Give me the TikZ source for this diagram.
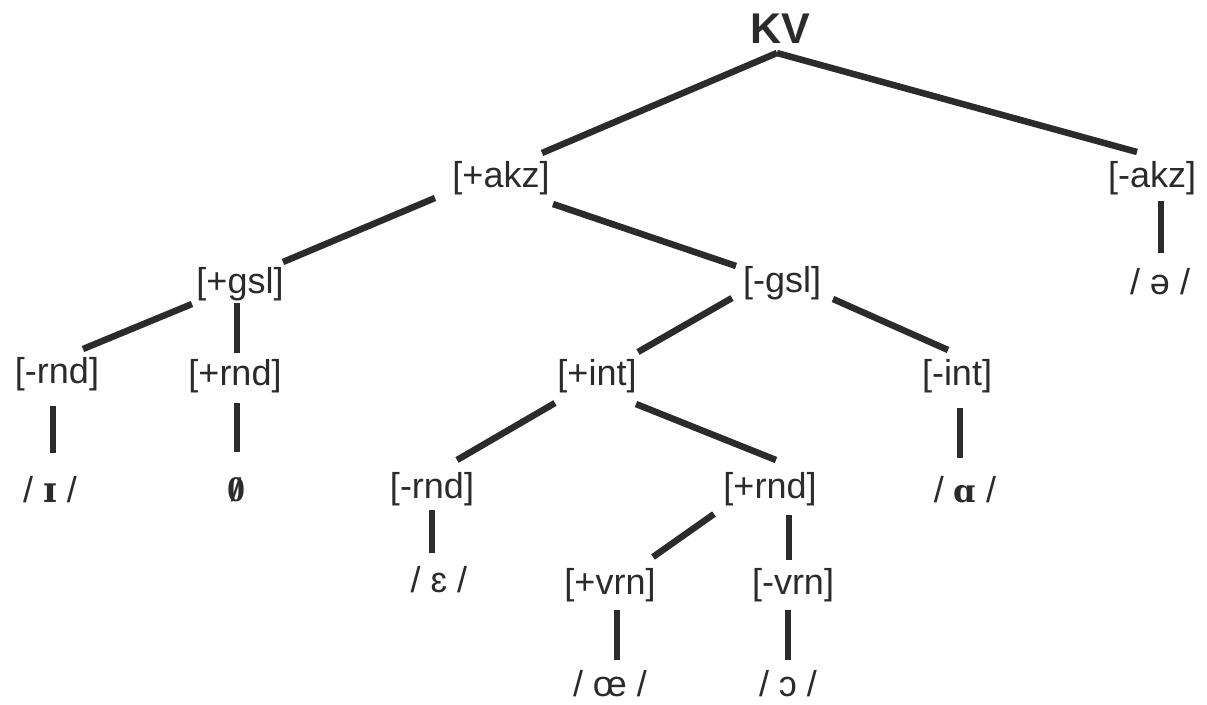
\documentclass[tikz,border=0pt]{standalone}
\usepackage{fontspec}
\setmainfont{Liberation Sans}
\newfontfamily\ipab{DejaVu Serif}
\newfontfamily\ipaser{Liberation Serif}
\definecolor{ink}{HTML}{2B2B2B}
\newcommand\slashzero{{\ipaser\bfseries\ooalign{0\cr\hidewidth/\hidewidth}}}
\begin{document}
\begin{tikzpicture}[x=1pt,y=-1pt,
  lbl/.style={text=ink, font=\fontsize{36}{40}\selectfont, inner sep=0pt, anchor=center},
  root/.style={text=ink, font=\fontsize{43}{48}\selectfont\bfseries, inner sep=0pt, anchor=center},
  edge/.style={draw=ink, line width=6.5pt, line cap=butt}]
\useasboundingbox (0,0) rectangle (1207,704);
% nodes
\node[root] (kv) at (780,29) {KV};
\node[lbl] (akzp) at (501,178) {[+akz]};
\node[lbl] (akzm) at (1152,178) {[-akz]};
\node[lbl] (gslp) at (240,284) {[+gsl]};
\node[lbl] (gslm) at (782,283) {[-gsl]};
\node[lbl] (rndA) at (57,374) {[-rnd]};
\node[lbl] (rndB) at (235,376) {[+rnd]};
\node[lbl] (intp) at (597,376) {[+int]};
\node[lbl] (intm) at (957,376) {[-int]};
\node[lbl] (ipaI) at (50,490) {/ {\ipab\bfseries ɪ} /};
\node[lbl] (null) at (236,490) {\slashzero};
\node[lbl] (rndC) at (432,489) {[-rnd]};
\node[lbl] (rndD) at (770,489) {[+rnd]};
\node[lbl] (ipaA) at (965,490) {/ {\ipab\bfseries\fontsize{32}{36}\selectfont ɑ} /};
\node[lbl] (ipaE) at (439,580) {/ ɛ /};
\node[lbl] (vrnp) at (610,585) {[+vrn]};
\node[lbl] (vrnm) at (793,585) {[-vrn]};
\node[lbl] (ipaOE) at (610,684) {/ œ /};
\node[lbl] (ipaO) at (788,684) {/ ɔ /};
\node[lbl] (ipaS) at (1160,282) {/ ə /};
% connector end points
\coordinate (kvB) at (777,53);
\coordinate (akzpN) at (542,153);
\coordinate (akzmN) at (1137,152);
\coordinate (akzpL) at (435,198);
\coordinate (gslpN) at (283,262);
\coordinate (akzpR) at (553,204);
\coordinate (gslmN) at (736,266);
\coordinate (akzmS) at (1161,201);
\coordinate (ipaSN) at (1161,253);
\coordinate (gslpL) at (192,304);
\coordinate (rndAN) at (83,349);
\coordinate (gslpS) at (237,303);
\coordinate (rndBN) at (237,353);
\coordinate (gslmL) at (732,298);
\coordinate (intpN) at (638,352);
\coordinate (gslmR) at (833,299);
\coordinate (intmN) at (948,350);
\coordinate (rndAS) at (53,406);
\coordinate (ipaIN) at (53,453);
\coordinate (rndBS) at (237,403);
\coordinate (nullN) at (237,452);
\coordinate (intpL) at (555,403);
\coordinate (rndCN) at (457,460);
\coordinate (intpR) at (636,404);
\coordinate (rndDN) at (776,460);
\coordinate (intmS) at (960,408);
\coordinate (ipaAN) at (960,458);
\coordinate (rndCS) at (432,510);
\coordinate (ipaEN) at (432,553);
\coordinate (rndDL) at (714,514);
\coordinate (vrnpN) at (653,557);
\coordinate (rndDS) at (789,515);
\coordinate (vrnmN) at (789,560);
\coordinate (vrnpS) at (617,610);
\coordinate (ipaOEN) at (617,660);
\coordinate (vrnmS) at (788,610);
\coordinate (ipaON) at (788,660);
% connectors
\draw[edge] (kvB) -- (akzpN);
\draw[edge] (kvB) -- (akzmN);
\draw[edge] (akzpL) -- (gslpN);
\draw[edge] (akzpR) -- (gslmN);
\draw[edge] (akzmS) -- (ipaSN);
\draw[edge] (gslpL) -- (rndAN);
\draw[edge] (gslpS) -- (rndBN);
\draw[edge] (gslmL) -- (intpN);
\draw[edge] (gslmR) -- (intmN);
\draw[edge] (rndAS) -- (ipaIN);
\draw[edge] (rndBS) -- (nullN);
\draw[edge] (intpL) -- (rndCN);
\draw[edge] (intpR) -- (rndDN);
\draw[edge] (intmS) -- (ipaAN);
\draw[edge] (rndCS) -- (ipaEN);
\draw[edge] (rndDL) -- (vrnpN);
\draw[edge] (rndDS) -- (vrnmN);
\draw[edge] (vrnpS) -- (ipaOEN);
\draw[edge] (vrnmS) -- (ipaON);
\end{tikzpicture}
\end{document}
